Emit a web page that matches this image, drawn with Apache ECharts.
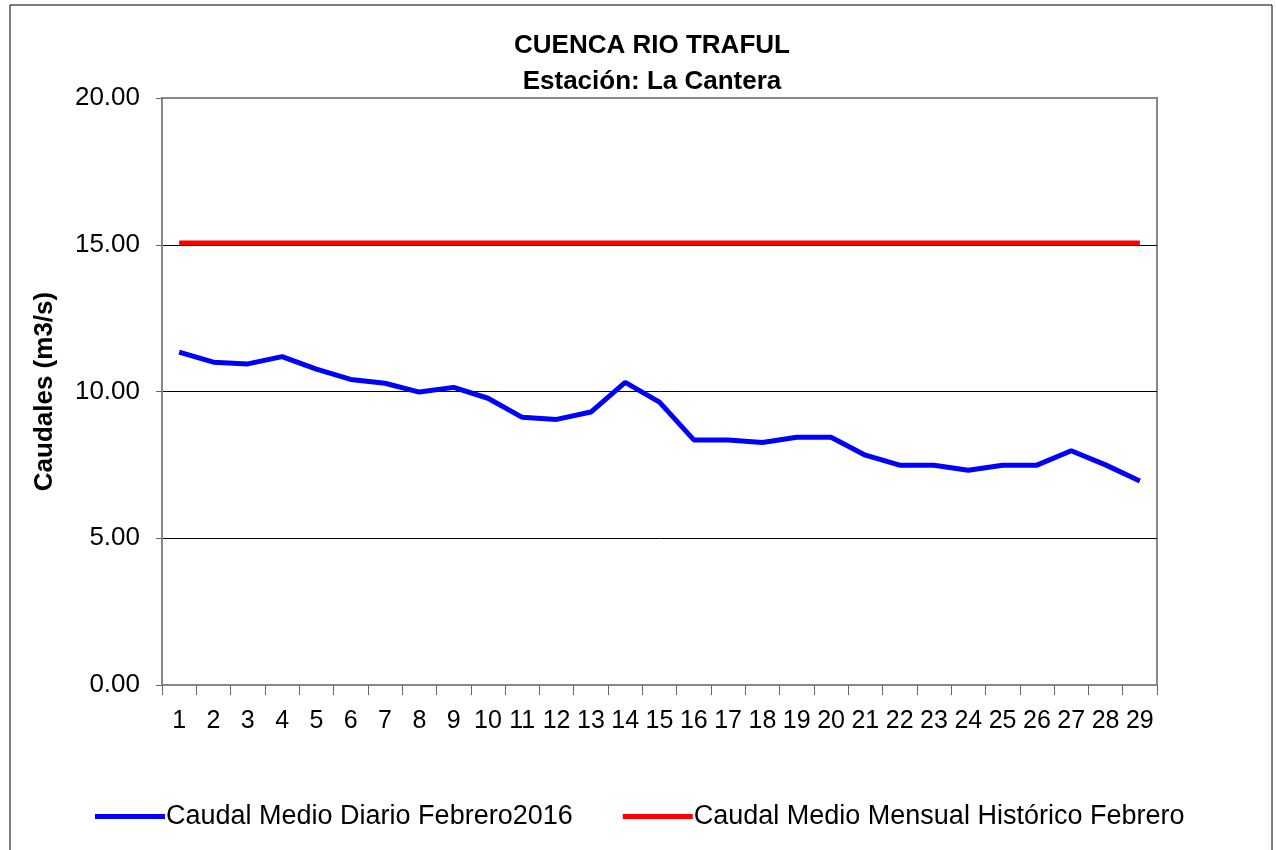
<!DOCTYPE html>
<html lang="es">
<head>
<meta charset="UTF-8">
<title>Cuenca Rio Traful</title>
<script src="https://cdn.jsdelivr.net/npm/echarts@6/dist/echarts.min.js"></script>
<style>
  html, body { margin: 0; padding: 0; background: #fff; }
  #main { width: 1276px; height: 850px; }
</style>
</head>
<body>
<div id="main"></div>
<script>
var dias = [];
for (var d = 1; d <= 29; d++) dias.push(String(d));

var caudalDiario = [11.34, 11.00, 10.94, 11.19, 10.76, 10.41, 10.28, 9.98, 10.14, 9.77,
  9.12, 9.05, 9.30, 10.31, 9.64, 8.35, 8.35, 8.26, 8.44, 8.44,
  7.83, 7.49, 7.49, 7.32, 7.49, 7.49, 7.98, 7.50, 6.95];
var caudalHistorico = 15.06;
var historico = dias.map(function () { return caudalHistorico; });

var nombreDiario = 'Caudal Medio Diario Febrero2016';
var nombreHistorico = 'Caudal Medio Mensual Histórico Febrero';

var fuente = '"Liberation Sans", Arial, sans-serif';
var chart = echarts.init(document.getElementById('main'));

chart.setOption({
  animation: false,
  textStyle: { fontFamily: fuente },
  graphic: [{
    type: 'rect',
    shape: { x: 10, y: 5, width: 1262, height: 860 },
    style: { fill: 'none', stroke: '#000', lineWidth: 1 },
    silent: true
  }],
  title: {
    text: 'CUENCA RIO TRAFUL\nEstación: La Cantera',
    left: 647, top: 23, textAlign: 'center',
    textStyle: { fontFamily: fuente, fontSize: 26, fontWeight: 'bold', color: '#000', lineHeight: 36 }
  },
  legend: {
    bottom: 15, left: 90,
    itemWidth: 70, itemHeight: 5, itemGap: 50,
    icon: 'rect',
    textStyle: { fontFamily: fuente, fontSize: 27, color: '#000', padding: [0, 0, 0, -4] },
    data: [nombreDiario, nombreHistorico]
  },
  grid: {
    left: 162, right: 119, top: 98, bottom: 165,
    show: true, borderColor: '#888', borderWidth: 2
  },
  xAxis: {
    type: 'category',
    data: dias,
    boundaryGap: true,
    axisLine: { lineStyle: { color: '#888', width: 2 } },
    axisTick: { show: true, interval: 0, length: 10, lineStyle: { color: '#666' } },
    axisLabel: { interval: 0, margin: 24, fontSize: 25, color: '#000', fontFamily: fuente }
  },
  yAxis: {
    type: 'value',
    min: 0, max: 20, interval: 5,
    name: 'Caudales (m3/s)',
    nameLocation: 'middle',
    nameGap: 104,
    nameTextStyle: { fontFamily: fuente, fontSize: 26, fontWeight: 'bold', color: '#000' },
    axisLine: { show: true, lineStyle: { color: '#888', width: 2 } },
    axisTick: { show: true, length: 6, lineStyle: { color: '#666' } },
    axisLabel: { formatter: function (v) { return v.toFixed(2); }, fontSize: 26, color: '#000', margin: 22, fontFamily: fuente },
    splitLine: { showMinLine: false, showMaxLine: false, lineStyle: { color: '#000', width: 1 } }
  },
  series: [{
    name: nombreDiario,
    type: 'line',
    data: caudalDiario,
    symbol: 'none',
    color: '#0000ff',
    lineStyle: { color: '#0000ff', width: 5 }
  }, {
    name: nombreHistorico,
    type: 'line',
    data: historico,
    symbol: 'none',
    color: '#ff0000',
    lineStyle: { color: '#ff0000', width: 5 }
  }]
});
</script>
</body>
</html>
